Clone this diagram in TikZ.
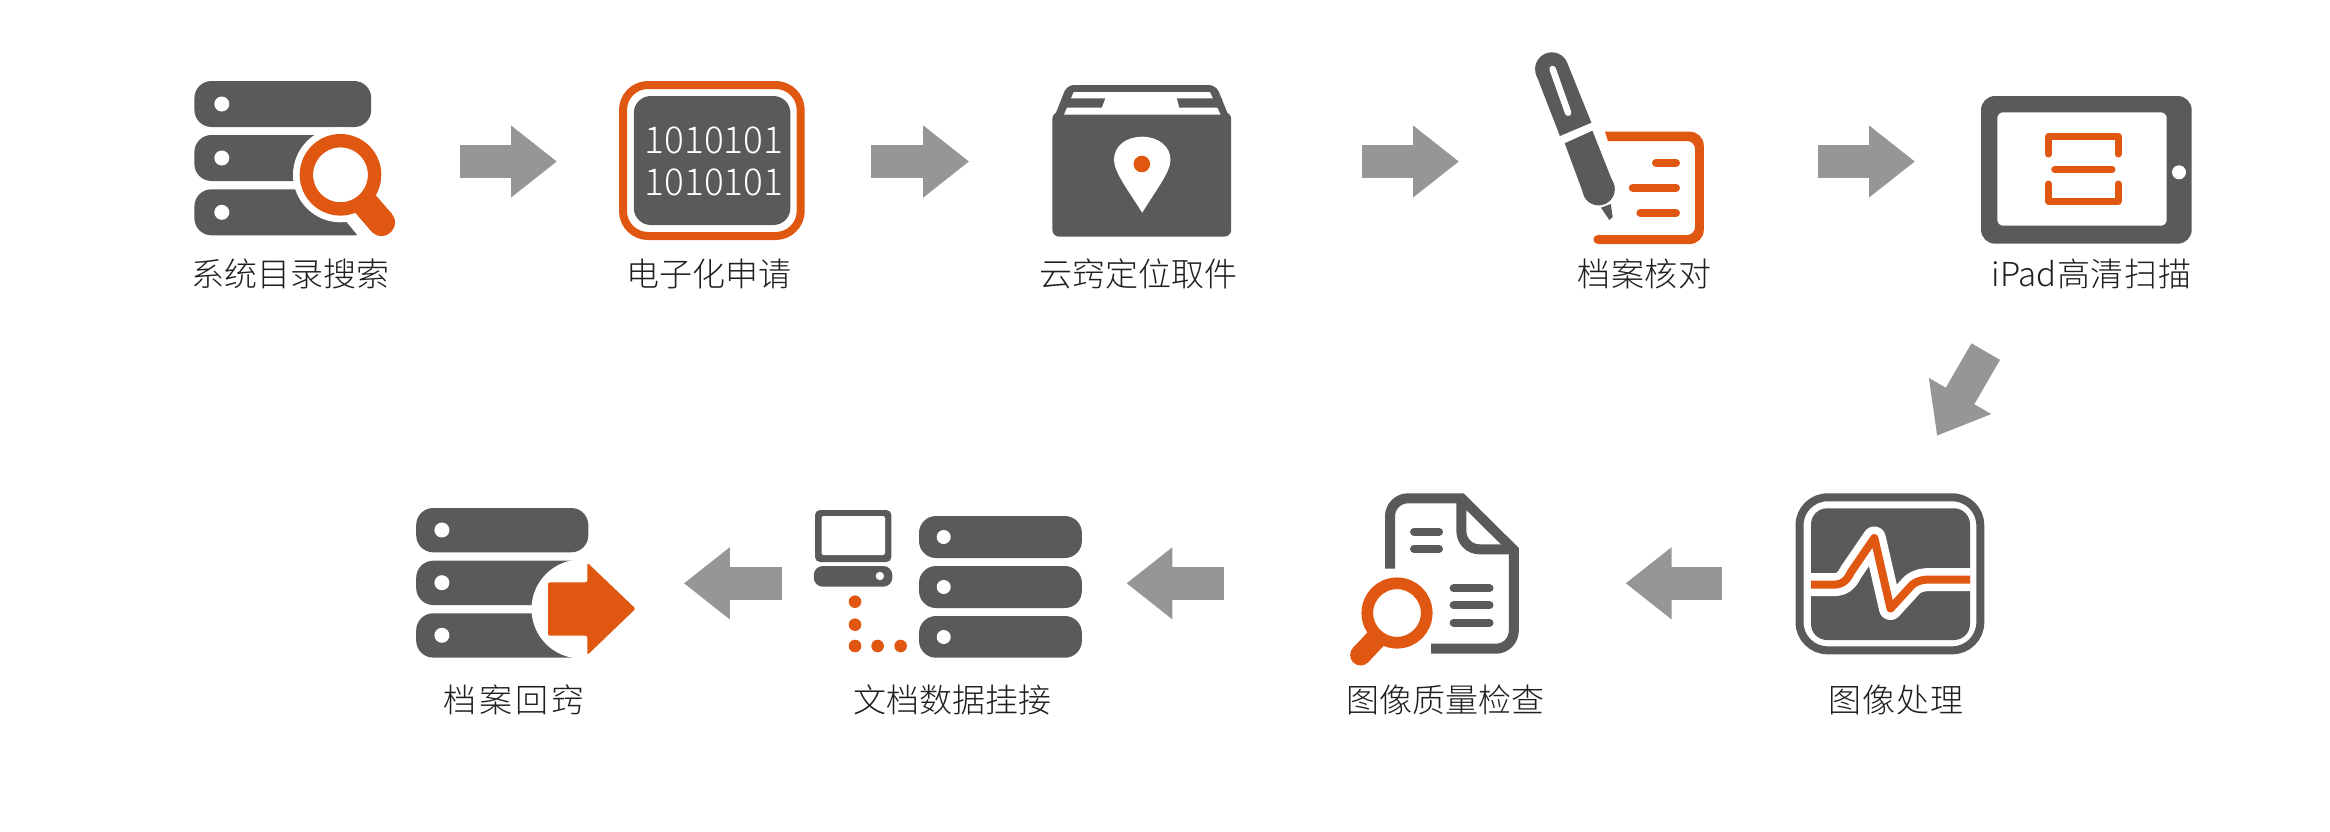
\documentclass[tikz,border=0pt]{standalone}
\usepackage{fontspec}
\setmainfont{Noto Sans CJK SC}[UprightFont=* Light]
\usetikzlibrary{arrows.meta, positioning}
\definecolor{icondark}{HTML}{5B595A}
\definecolor{iconorange}{HTML}{E05712}
\definecolor{flowgray}{HTML}{969696}
\definecolor{labeltext}{HTML}{1F1F1F}

\begin{document}
\begin{tikzpicture}[
    x=1pt, y=-1pt,
    % --- block styles ---
    iconbox/.style={
        minimum height=170pt, inner sep=0pt, outer sep=0pt},
    steplabel/.style={
        minimum height=40pt, inner sep=0pt, outer sep=0pt,
        font=\fontsize{33}{33}\selectfont, text=labeltext},
    bitlabel/.style={
        inner sep=0pt, font=\fontsize{37}{37}\selectfont, text=white},
    flowarr/.style={
        draw=flowgray, line width=33pt,
        -{Triangle[length=46pt, width=69pt, fill=flowgray]}},
    dark/.style={fill=icondark},
    accent/.style={fill=iconorange},
    mask/.style={fill=white},
    slab/.style={fill=icondark, rounded corners=17pt},
    barline/.style={draw=iconorange, line width=8pt, line cap=round},
    graybar/.style={draw=icondark, line width=8pt, line cap=round},
]
\useasboundingbox (0,0) rectangle (2330,831);

% ===== ICON BOXES (top row) =====
\node[iconbox, minimum width=200pt] (search) at (294,161.5) {};
\node[iconbox, minimum width=186pt] (apply) at (712,161.5) {};
\node[iconbox, minimum width=179pt] (locate) at (1141.7,161.5) {};
\node[iconbox, minimum width=169pt] (verify) at (1619.5,161.5) {};
\node[iconbox, minimum width=211pt] (scan) at (2086.5,161.5) {};

% ===== ICON BOXES (bottom row) =====
\node[iconbox, minimum width=189pt] (process) at (1889.9,583.3) {};
\node[iconbox, minimum width=169pt] (check) at (1434,583.3) {};
\node[iconbox, minimum width=268pt] (link) at (947.9,583.3) {};
\node[iconbox, minimum width=219.4pt] (store) at (525.9,583.3) {};

% ===== LABELS =====
\node[steplabel, below=7.5pt of search, xshift=-3.4pt] (searchlbl) {系统目录搜索};
\node[steplabel, below=7.5pt of apply, xshift=-3pt] (applylbl) {电子化申请};
\node[steplabel, below=7.5pt of locate, xshift=-3pt] (locatelbl) {云窍定位取件};
\node[steplabel, below=7.5pt of verify, xshift=25pt] (verifylbl) {档\hspace{1pt}案\hspace{1pt}核\hspace{1pt}对};
\node[steplabel, below=7.5pt of scan, xshift=5.2pt] (scanlbl) {iPad\hspace{1pt}高清\hspace{1pt}扫\hspace{1pt}描};
\node[steplabel, below=11.7pt of process, xshift=6pt] (processlbl) {图\hspace{1pt}像\hspace{1pt}处\hspace{1pt}理};
\node[steplabel, below=11.7pt of check, xshift=11pt] (checklbl) {图像质量检查};
\node[steplabel, below=11.7pt of link, xshift=4.5pt] (linklbl) {文档数据挂接};
\node[steplabel, below=11.7pt of store, xshift=-12pt] (storelbl) {档\hspace{3pt}案\hspace{3pt}回\hspace{3pt}窍};

% ===== ARROWS =====
\draw[flowarr, shorten <=66pt, shorten >=62pt] (search) -- (apply);
\draw[flowarr, shorten <=66pt, shorten >=83pt] (apply) -- (locate);
\draw[flowarr, shorten <=131pt, shorten >=76pt] (locate) -- (verify);
\draw[flowarr, shorten <=114pt, shorten >=66pt] (verify) -- (scan);
\draw[flowarr, shorten <=121.5pt, shorten >=72.3pt]
    ([xshift=-39.8pt]scan.south) -- ([xshift=10.8pt]process.north);
\draw[flowarr, shorten <=73.6pt, shorten >=107pt] (process) -- (check);
\draw[flowarr, shorten <=125.2pt, shorten >=44.5pt] (check) -- (link);
\draw[flowarr, shorten <=32.4pt, shorten >=48.2pt] (link) -- (store);

% ===== SEARCH ICON =====
\foreach \y in {81,135,189.3}{
    \fill[slab] (194.4,\y) rectangle (371.2,\y+46);
    \fill[mask] (221.8,\y+23) circle (7.5);
}
\fill[mask] (340.5,174.8) circle (47.5);
\draw[white, line width=41pt] (360,206) -- (381.5,232);
\draw[iconorange, line width=13.4pt] (340.5,174.8) circle (34.1);
\draw[iconorange, line width=27pt] (362.5,200.5) -- (381.5,222.5);
\fill[accent] (381.5,222.5) circle (13.5);

% ===== DIGITISE ICON =====
\draw[iconorange, line width=8pt, rounded corners=25pt] (623,85) rectangle (800.7,236);
\fill[dark, rounded corners=17pt] (633.8,96) rectangle (790.4,225);
\node[bitlabel] (bitsa) at (714,140.7) {1010101};
\node[bitlabel] (bitsb) at (714,182.3) {1010101};

% ===== BOX ICON =====
\fill[dark, rounded corners=7pt] (1052.3,112) rectangle (1231.2,236.7);
\fill[dark, rounded corners=7pt] (1052.3,122) -- (1067,85) -- (1216,85) -- (1231.2,122) -- cycle;
\fill[mask] (1073.7,92) -- (1209.9,92) -- (1220.6,114.7) -- (1064,114.7) -- cycle;
\fill[dark] (1062,98.3) -- (1105.2,98.3) -- (1101.8,107.7) -- (1062,107.7) -- cycle;
\fill[dark] (1176.9,98.3) -- (1179.4,107.7) -- (1222,107.7) -- (1222,98.3) -- cycle;
\fill[mask] (1142.2,212.7) .. controls (1128,190) and (1114,172) .. (1114,160)
    .. controls (1114,146) and (1126,136.7) .. (1142.2,136.7)
    .. controls (1158,136.7) and (1170.5,146) .. (1170.5,160)
    .. controls (1170.5,172) and (1156,190) .. (1142.2,212.7) -- cycle;
\fill[accent] (1141.8,164) circle (8.3);

% ===== PEN ICON =====
\fill[dark] (1559.9,136) -- (1535.6,73.3) -- (1568.1,65) -- (1591.4,122.7) -- cycle;
\fill[dark] (1551.8,69) circle (16.7);
\draw[white, line width=6.5pt, line cap=round] (1552.6,69) -- (1568.1,112.7);
\fill[dark] (1564.7,143.3) -- (1592.4,130.7) -- (1614.6,186.7) -- (1582.6,191.7) -- cycle;
\fill[dark] (1598.6,189.2) circle (16.2);
\fill[dark] (1601,207.7) -- (1610.8,204) -- (1612.7,217) -- (1609.3,220) -- cycle;
\fill[accent] (1605,131.7) [rounded corners=14pt] -- (1703.8,131.7) -- (1703.8,244)
    [sharp corners] -- (1598,244) .. controls (1592,244) and (1592,235) .. (1598,235)
    [rounded corners=8pt] -- (1695,235) -- (1695,141) [sharp corners] -- (1607.9,141) -- cycle;
\draw[barline] (1656,162.7) -- (1676,162.7);
\draw[barline] (1632.7,187.7) -- (1676,187.7);
\draw[barline] (1640.4,213) -- (1676,213);

% ===== TABLET ICON =====
\fill[dark, rounded corners=14pt] (1981,96) rectangle (2191.7,243.7);
\fill[mask, rounded corners=6pt] (1997.3,112.3) rectangle (2166.7,225.7);
\fill[mask] (2179,172.3) circle (7);
\draw[barline, line width=7pt, line join=round] (2048.7,154) -- (2048.7,136.3) -- (2118,136.3) -- (2118,154);
\draw[barline, line width=7pt, line join=round] (2048.7,184) -- (2048.7,201.3) -- (2118,201.3) -- (2118,184);
\draw[barline, line width=7pt] (2054.7,169.3) -- (2112,169.3);

% ===== WAVEFORM ICON =====
\draw[icondark, line width=8pt, rounded corners=28pt] (1799.5,497.3) rectangle (1980.3,650.3);
\fill[dark, rounded corners=16pt] (1811,508.3) rectangle (1970,640);
\foreach \wavecol/\wavew in {white/23pt, iconorange/8pt}{
    \draw[\wavecol, line width=\wavew, line join=round]
        (1811,584.7) -- (1833,584.7) .. controls (1843,584.7) and (1847,580) .. (1851,572)
        -- (1874.3,538) -- (1890.5,608.5) -- (1912,585)
        .. controls (1918,580) and (1924,579.5) .. (1932,579.5) -- (1970,579.5);
}

% ===== DOCUMENT ICON =====
\draw[icondark, line width=10pt] (1390,568.7) [rounded corners=18pt] -- (1390,498.3)
    [sharp corners] -- (1461.5,498.3) -- (1513.8,550) [rounded corners=18pt] -- (1513.8,648.7) -- (1431,648.7);
\draw[icondark, line width=10pt] (1461.4,498.3) [rounded corners=18pt] -- (1461.4,549.3) [sharp corners] -- (1513.8,549.3);
\draw[graybar] (1414,531.7) -- (1439,531.7);
\draw[graybar] (1414,548.7) -- (1439,548.7);
\foreach \y in {588.3,605.3,622.7}{
    \draw[graybar] (1453.6,\y) -- (1489.5,\y);
}
\draw[iconorange, line width=11.7pt] (1397,613) circle (29.7);
\draw[iconorange, line width=21pt] (1378.5,636) -- (1360.6,655);
\fill[accent] (1360.6,655) circle (10.5);

% ===== LINK ICON =====
\fill[dark, rounded corners=5pt] (815,510) rectangle (891.4,562);
\fill[mask, rounded corners=2pt] (821.6,516) rectangle (885,555);
\fill[dark, rounded corners=9pt] (813.8,566) rectangle (892.3,586.7);
\fill[mask] (879.9,576) circle (4.2);
\foreach \p in {(855,601.7),(855,624.7),(855,646),(877.6,646),(900.6,646)}{
    \fill[accent] \p circle (6.3);
}
\foreach \y/\h in {516/42,566/42,616/41.7}{
    \fill[slab] (919,\y) rectangle (1081.9,\y+\h);
    \fill[mask] (943.7,\y+21) circle (7);
}

% ===== RETURN ICON =====
\foreach \y in {508,560.7,613.3}{
    \fill[slab] (416.2,\y) rectangle (588.3,\y+44.3);
    \fill[mask] (441.9,\y+22) circle (7.5);
}
\fill[mask] (581,609) circle (49.5);
\fill[accent, rounded corners=2pt] (548,582.3) -- (587.4,582.3) -- (587.4,562.7) -- (635.6,608.7)
    -- (587.4,655) -- (587.4,635.7) -- (548,635.7) -- cycle;

\end{tikzpicture}
\end{document}
